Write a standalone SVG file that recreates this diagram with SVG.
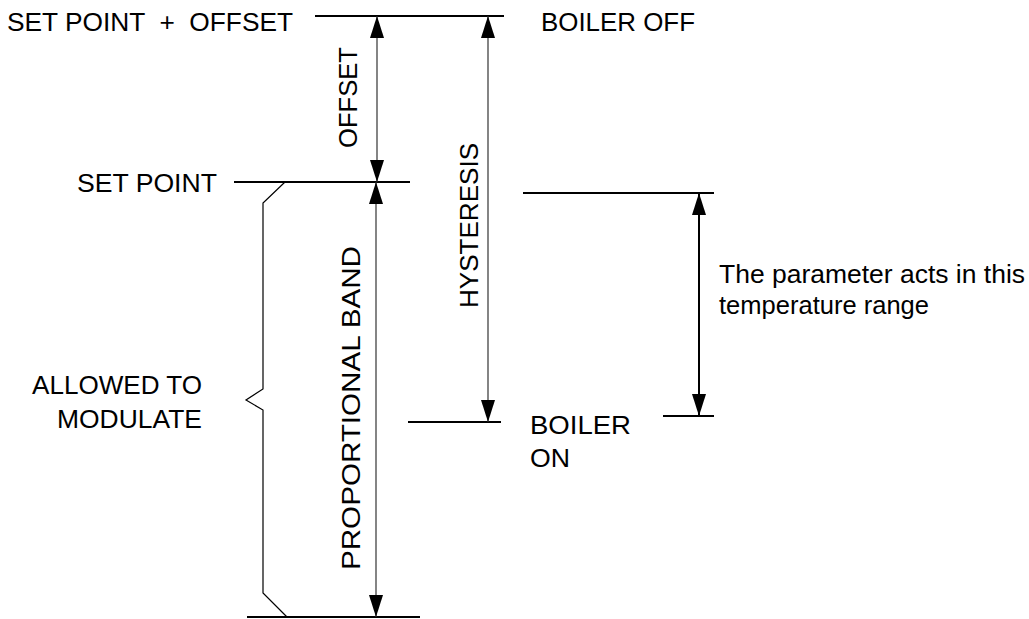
<svg xmlns="http://www.w3.org/2000/svg" width="1029" height="619" viewBox="0 0 1029 619">
<style>
text{font-family:"Liberation Sans",Arial,sans-serif;font-size:25px;fill:#000}
.lv{stroke:#000;stroke-width:2;fill:none}
.dim{stroke:#333;stroke-width:1.2;fill:none}
.br{stroke:#000;stroke-width:1.2;fill:none}
</style>
<defs>
<marker id="a" viewBox="0 0 22 14" refX="22" refY="7" markerWidth="22" markerHeight="14" markerUnits="userSpaceOnUse" orient="auto-start-reverse">
<path d="M0,0 L22,7 L0,14 Z" fill="#000"/>
</marker>
</defs>
<g id="levels">
<line class="lv" x1="315" y1="16" x2="504" y2="16"/>
<line class="lv" x1="234" y1="182" x2="410" y2="182"/>
<line class="lv" x1="523" y1="193" x2="714" y2="193"/>
<line class="lv" x1="408" y1="422" x2="501" y2="422"/>
<line class="lv" x1="663" y1="416" x2="714" y2="416"/>
<line class="lv" x1="247" y1="617" x2="420" y2="617"/>
</g>
<g id="brace">
<polyline class="br" points="285,182 263,203 263,389 246,400 263,410 263,593 287,617"/>
</g>
<g id="connectors">
<line class="dim" x1="377" y1="16" x2="377" y2="182" marker-start="url(#a)" marker-end="url(#a)"/>
<line class="dim" x1="376" y1="182" x2="376" y2="617" marker-start="url(#a)" marker-end="url(#a)"/>
<line class="dim" x1="488" y1="16" x2="488" y2="422" marker-start="url(#a)" marker-end="url(#a)"/>
<line class="lv" x1="699" y1="193" x2="699" y2="416" marker-start="url(#a)" marker-end="url(#a)"/>
</g>
<g id="labels">
<text x="7" y="31" textLength="286" lengthAdjust="spacingAndGlyphs" xml:space="preserve">SET POINT  +  OFFSET</text>
<text x="541" y="31" textLength="154" lengthAdjust="spacingAndGlyphs">BOILER OFF</text>
<text x="77" y="192" textLength="140" lengthAdjust="spacingAndGlyphs">SET POINT</text>
<text x="32" y="394" textLength="170" lengthAdjust="spacingAndGlyphs">ALLOWED TO</text>
<text x="57" y="428" textLength="145" lengthAdjust="spacingAndGlyphs">MODULATE</text>
<text x="719" y="283" textLength="306" lengthAdjust="spacingAndGlyphs">The parameter acts in this</text>
<text x="719" y="314" textLength="210" lengthAdjust="spacingAndGlyphs">temperature range</text>
<text x="530" y="434" textLength="101" lengthAdjust="spacingAndGlyphs">BOILER</text>
<text x="530" y="467" textLength="40" lengthAdjust="spacingAndGlyphs">ON</text>
<text transform="translate(357,148) rotate(-90)" textLength="101" lengthAdjust="spacingAndGlyphs">OFFSET</text>
<text transform="translate(478,308) rotate(-90)" textLength="165" lengthAdjust="spacingAndGlyphs">HYSTERESIS</text>
<text transform="translate(360,570) rotate(-90)" textLength="324" lengthAdjust="spacingAndGlyphs">PROPORTIONAL BAND</text>
</g>
</svg>
